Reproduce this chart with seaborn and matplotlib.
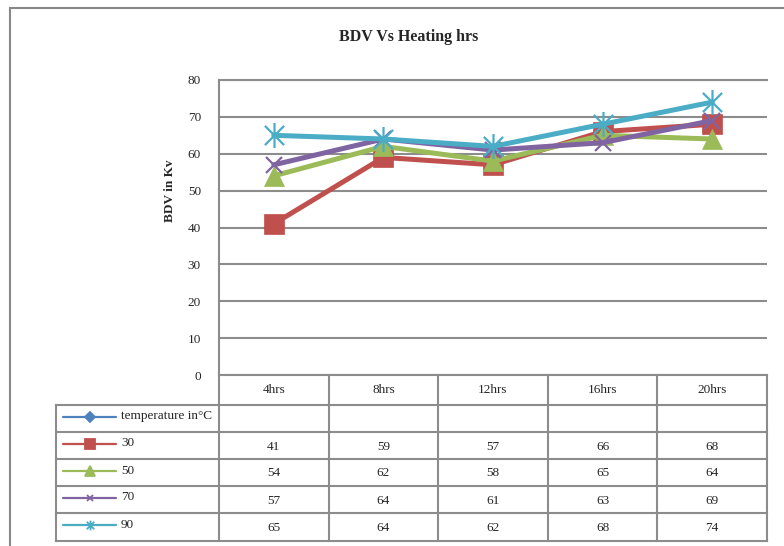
import matplotlib
matplotlib.use("Agg")
import matplotlib.pyplot as plt
import seaborn as sns
from matplotlib.path import Path
from matplotlib.transforms import blended_transform_factory
from matplotlib.patches import Rectangle

# ---- data ----
categories = ["4hrs", "8hrs", "12hrs", "16hrs", "20hrs"]
legend_header = "temperature in°C"
series_names = ["30", "50", "70", "90"]
bdv_30 = [41, 59, 57, 66, 68]
bdv_50 = [54, 62, 58, 65, 64]
bdv_70 = [57, 64, 61, 63, 69]
bdv_90 = [65, 64, 62, 68, 74]
series_values = [bdv_30, bdv_50, bdv_70, bdv_90]
title = "BDV Vs Heating hrs"
ylabel = "BDV in Kv"

# ---- styles ----
header_color = "#4F81BD"
colors = ["#C0504D", "#9BBB59", "#8064A2", "#4BACC6"]
star = Path([(-1, -1), (1, 1), (-1, 1), (1, -1), (0, -1.3), (0, 1.3)],
            [Path.MOVETO, Path.LINETO, Path.MOVETO, Path.LINETO, Path.MOVETO, Path.LINETO])
markers = ["s", "^", "x", star]
msizes = [14, 14, 12, 18]
key_sizes = [6.5, 7, 5, 7]
filled = [True, True, False, False]
grid_c = "#8C8C8C"

sns.set_style("white")
plt.rcParams["font.family"] = ["Liberation Serif", "DejaVu Serif"]

W, H = 784, 546
fig = plt.figure(figsize=(W / 100, H / 100), dpi=100)


def fr(x0, y0, x1, y1):
    return [x0 / W, 1 - y1 / H, (x1 - x0) / W, (y1 - y0) / H]


# outer chart border
fig.patches.append(Rectangle((10 / W, -0.1), 1.2, 1 - 8 / H + 0.1, transform=fig.transFigure,
                             fill=False, edgecolor="#888888", linewidth=1.5))

ax = fig.add_axes(fr(219, 80, 767, 375))
for name, vals, c, m, ms, f in zip(series_names, series_values, colors, markers, msizes, filled):
    sns.lineplot(x=categories, y=vals, ax=ax, color=c, linewidth=3.6, sort=False,
                 marker=m, markersize=ms, markeredgecolor=c,
                 markerfacecolor=c if f else "none", markeredgewidth=1.6 if not f else 0.5,
                 legend=False)

ax.set_xlim(-0.5, len(categories) - 0.5)
ax.set_ylim(0, 80)
ax.set_yticks(range(0, 81, 10))
ax.set_xticks(range(len(categories)))
ax.set_xticklabels([])
ax.set_xlabel("")
ax.set_ylabel("")
ax.yaxis.grid(True, color=grid_c, linewidth=1.5)
ax.xaxis.grid(False)
ax.set_axisbelow(True)
ax.tick_params(axis="both", length=0, labelsize=9.5, pad=13)
ax.spines["right"].set_visible(False)
for s in ["left", "bottom", "top"]:
    ax.spines[s].set_color(grid_c)
    ax.spines[s].set_linewidth(1.5)
ax.set_facecolor("none")

fig.text(409 / W, 1 - 37 / H, title, ha="center", va="center", fontsize=11.5, fontweight="bold")
fig.text(170 / W, 1 - 191 / H, ylabel, ha="center", va="center", rotation=90,
         fontsize=9.5, fontweight="bold")

# ---- data table ----
ov = fig.add_axes([0, 0, 1, 1])
ov.set_xlim(0, W)
ov.set_ylim(H, 0)
ov.axis("off")
ov.patch.set_alpha(0)
bt = blended_transform_factory(ax.transData, ov.transData)

row_edges = [375, 405, 432, 459, 486, 513, 541]
n = len(categories)
lk = dict(color=grid_c, linewidth=1.5, solid_capstyle="projecting")
# vertical lines of the value columns
for i in range(n + 1):
    ov.plot([i - 0.5, i - 0.5], [row_edges[0], row_edges[-1]], transform=bt, **lk)
# left border of legend column
ov.plot([56, 56], [row_edges[1], row_edges[-1]], **lk)
# horizontal rows
for y in row_edges[1:]:
    ov.plot([56, 767], [y, y], **lk)

# header row
for i, cat in enumerate(categories):
    ov.text(i, 390, cat, transform=bt, ha="center", va="center", fontsize=9.5)

# legend keys
rows = [(legend_header, header_color, "D", 5, True, None)] + \
       [(nm, c, m, ks, f, v) for nm, c, m, ks, f, v in
        zip(series_names, colors, markers, key_sizes, filled, series_values)]
for r, (nm, c, m, ms, f, vals) in enumerate(rows):
    yc = (row_edges[r + 1] + row_edges[r + 2]) / 2
    ov.plot([63, 116], [yc - 2, yc - 2], color=c, linewidth=1.6)
    ov.plot([90], [yc - 2], marker=m, color=c, markersize=ms,
            markerfacecolor=c if f else "none", markeredgecolor=c, markeredgewidth=1.3)
    ov.text(121, yc - 2, nm, ha="left", va="center", fontsize=9.5)
    if vals is not None:
        for i, v in enumerate(vals):
            ov.text(i, yc + 1, str(v), transform=bt, ha="center", va="center", fontsize=9.5)

fig.savefig("out.png", dpi=100)
